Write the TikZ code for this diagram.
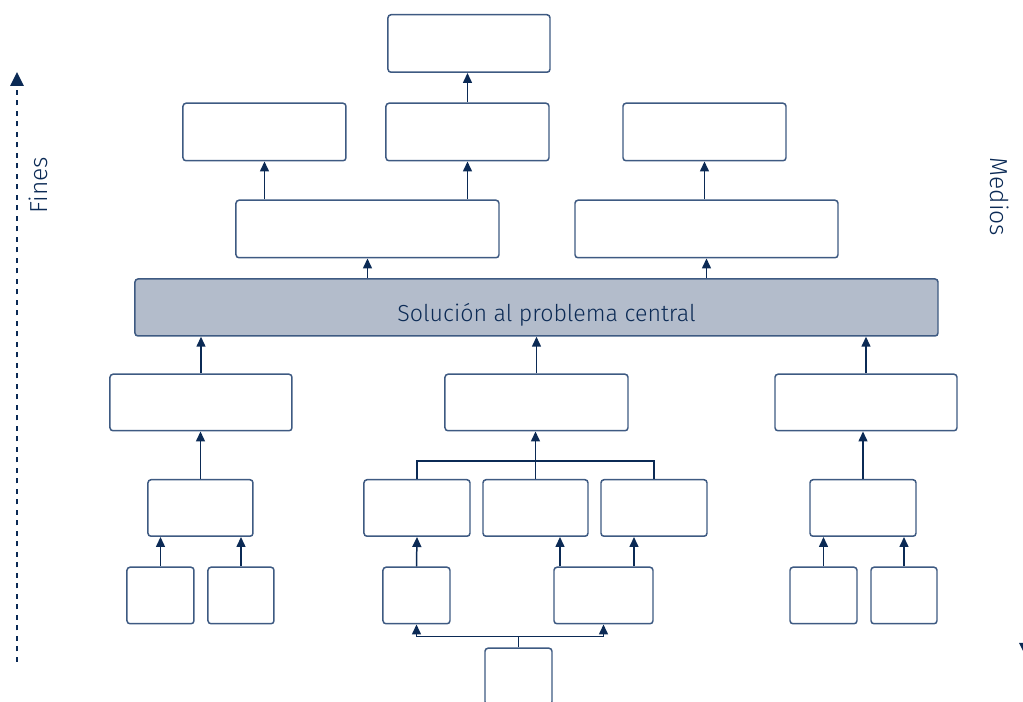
\documentclass[tikz,border=0pt]{standalone}
\usepackage{fontspec}
\setmainfont{Fira Sans Light}
\usetikzlibrary{shapes, arrows.meta, positioning, calc}
\definecolor{azul}{HTML}{0B2A55}
\definecolor{borde}{HTML}{3E5A82}
\definecolor{relleno}{HTML}{B3BCCB}
\tikzstyle{fin} = [rectangle, rounded corners=0.6mm, minimum height=1.15cm, draw=borde, line width=0.85pt, fill=white]
\tikzstyle{medio} = [rectangle, rounded corners=0.6mm, minimum height=1.13cm, draw=borde, line width=0.85pt, fill=white]
\tikzstyle{problema} = [rectangle, rounded corners=0.6mm, minimum width=16.06cm, minimum height=1.14cm, text height=3.1ex, text depth=0pt, draw=borde, line width=0.85pt, fill=relleno, text=azul, font=\fontsize{13.2}{15}\selectfont]
\tikzstyle{flecha} = [-{Triangle[length=2mm, width=1.8mm]}, line width=0.85pt, draw=azul]
\tikzstyle{linea} = [line width=0.85pt, draw=azul]
\tikzstyle{eje} = [-{Triangle[length=2.8mm, width=2.6mm]}, line width=1.5pt, draw=azul, dash pattern=on 1mm off 1.1mm]
\tikzstyle{rotulo} = [text=azul, font=\fontsize{14}{16}\selectfont]

\begin{document}
\begin{tikzpicture}[node distance=2cm]
\useasboundingbox (-10.73,-7.89) rectangle (9.73,6.15);
\node (central) [problema] {\hspace*{0.4cm}Solución al problema central};
\node (b1) [fin, minimum width=5.26cm, above of=central, xshift=-3.38cm, yshift=-0.43cm] {};
\node (b2) [fin, minimum width=5.26cm, right of=b1, xshift=4.78cm] {};
\node (a1) [fin, minimum width=3.26cm, above of=b1, xshift=-2.06cm, yshift=-0.06cm] {};
\node (a2) [fin, minimum width=3.26cm, right of=a1, xshift=2.06cm] {};
\node (a3) [fin, minimum width=3.26cm, right of=a2, xshift=2.74cm] {};
\node (t0) [fin, minimum width=3.24cm, above of=a2, xshift=0.03cm, yshift=-0.23cm] {};
\node (c2) [medio, minimum width=3.66cm, below of=central, yshift=0.1cm] {};
\node (c1) [medio, minimum width=3.64cm, left of=c2, xshift=-4.71cm] {};
\node (c3) [medio, minimum width=3.64cm, right of=c2, xshift=4.59cm] {};
\node (d3) [medio, minimum width=2.1cm, below of=c2, xshift=-0.02cm, yshift=-0.11cm] {};
\node (d2) [medio, minimum width=2.12cm, left of=d3, xshift=-0.37cm] {};
\node (d4) [medio, minimum width=2.12cm, right of=d3, xshift=0.37cm] {};
\node (d1) [medio, minimum width=2.1cm, below of=c1, xshift=-0.01cm, yshift=-0.11cm] {};
\node (d5) [medio, minimum width=2.12cm, below of=c3, xshift=-0.06cm, yshift=-0.11cm] {};
\node (e1) [medio, minimum width=1.34cm, below of=d1, xshift=-0.8cm, yshift=0.25cm] {};
\node (e2) [medio, minimum width=1.32cm, right of=e1, xshift=-0.39cm] {};
\node (e3) [medio, minimum width=1.34cm, below of=d2, xshift=-0.01cm, yshift=0.25cm] {};
\node (e4) [medio, minimum width=1.98cm, below of=d3, xshift=1.36cm, yshift=0.25cm] {};
\node (e5) [medio, minimum width=1.34cm, below of=d5, xshift=-0.79cm, yshift=0.25cm] {};
\node (e6) [medio, minimum width=1.32cm, right of=e5, xshift=-0.39cm] {};
\node (f) [medio, minimum width=1.34cm, below of=e3, xshift=2.04cm, yshift=0.38cm] {};
\node (fines) [rotulo, rotate=90] at (-9.97,2.45) {Fines};
\node (medios) [rotulo, rotate=-90] at (9.27,2.21) {Medios};
\coordinate (finbot) at (-10.39,-7.09);
\coordinate (fintop) at (-10.39,4.71);
\coordinate (medtop) at (9.79,4.71);
\coordinate (medbot) at (9.79,-6.99);
\coordinate (dj) at ($(d3.north)+(0,0.36)$);
\coordinate (fj) at ($(f.north)+(0,0.22)$);
\coordinate (e4a) at ([xshift=-0.87cm]e4.north);
\coordinate (e4b) at ([xshift=0.61cm]e4.north);

\draw[flecha] (a2.north) -- (a2.north |- t0.south);
\draw[flecha] (b1.north -| a1) -- (a1.south);
\draw[flecha] (b1.north -| a2) -- (a2.south);
\draw[flecha] (b2.north -| a3) -- (a3.south);
\draw[flecha] (central.north -| b1) -- (b1.south);
\draw[flecha] (central.north -| b2) -- (b2.south);
\draw[flecha] (c1.north) -- (c1.north |- central.south);
\draw[flecha] (c2.north) -- (central.south);
\draw[flecha] (c3.north) -- (c3.north |- central.south);
\draw[flecha] (d1.north) -- (d1.north |- c1.south);
\draw[flecha] (d3.north) -- (d3.north |- c2.south);
\draw[linea] (d2.north) |- (dj) -| (d4.north);
\draw[flecha] (d5.north) -- (d5.north |- c3.south);
\draw[flecha] (e1.north) -- (e1.north |- d1.south);
\draw[flecha] (e2.north) -- (e2.north |- d1.south);
\draw[flecha] (e3.north) -- (d2.south);
\draw[flecha] (e4a) -- (e4a |- d3.south);
\draw[flecha] (e4b) -- (e4b |- d4.south);
\draw[flecha] (e5.north) -- (e5.north |- d5.south);
\draw[flecha] (e6.north) -- (e6.north |- d5.south);
\draw[linea] (f.north) -- (fj);
\draw[flecha] (fj) -| (e3.south);
\draw[flecha] (fj) -| (e4.south);
\draw[eje] (finbot) -- (fintop);
\draw[eje] (medtop) -- (medbot);
\end{tikzpicture}
\end{document}
